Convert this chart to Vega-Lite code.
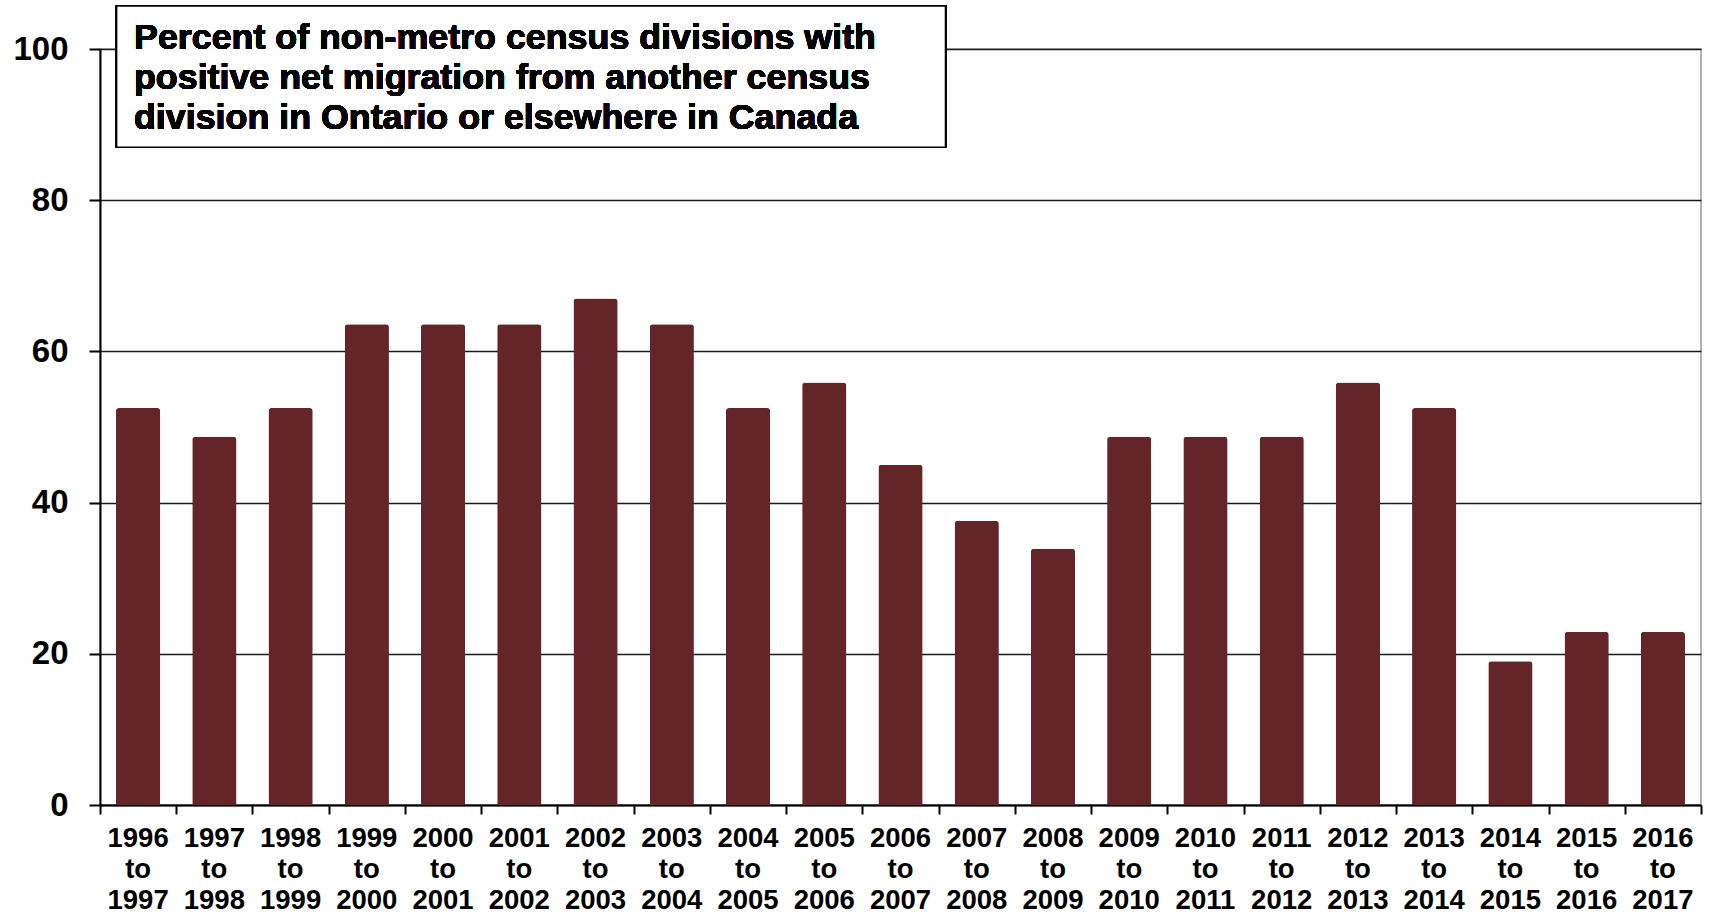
{
  "$schema": "https://vega.github.io/schema/vega-lite/v6.json",
  "width": 1601,
  "height": 756,
  "autosize": {"type": "none"},
  "padding": {"left": 100, "top": 49, "right": 8, "bottom": 109},
  "background": "white",
  "config": {"view": {"stroke": "#9a9a9a", "strokeWidth": 1.5}},
  "data": {"values": [
    {"period": "1996|to|1997", "pct": 52.5},
    {"period": "1997|to|1998", "pct": 48.7},
    {"period": "1998|to|1999", "pct": 52.5},
    {"period": "1999|to|2000", "pct": 63.6},
    {"period": "2000|to|2001", "pct": 63.6},
    {"period": "2001|to|2002", "pct": 63.6},
    {"period": "2002|to|2003", "pct": 67.0},
    {"period": "2003|to|2004", "pct": 63.6},
    {"period": "2004|to|2005", "pct": 52.5},
    {"period": "2005|to|2006", "pct": 55.9},
    {"period": "2006|to|2007", "pct": 45.0},
    {"period": "2007|to|2008", "pct": 37.6},
    {"period": "2008|to|2009", "pct": 33.9},
    {"period": "2009|to|2010", "pct": 48.7},
    {"period": "2010|to|2011", "pct": 48.7},
    {"period": "2011|to|2012", "pct": 48.7},
    {"period": "2012|to|2013", "pct": 55.9},
    {"period": "2013|to|2014", "pct": 52.5},
    {"period": "2014|to|2015", "pct": 19.0},
    {"period": "2015|to|2016", "pct": 22.9},
    {"period": "2016|to|2017", "pct": 22.9}
  ]},
  "layer": [
    {
      "mark": {"type": "bar", "color": "#632527", "cornerRadiusTopLeft": 3, "cornerRadiusTopRight": 3},
      "encoding": {
        "x": {
          "field": "period", "type": "nominal", "sort": null,
          "scale": {"paddingInner": 0.42, "paddingOuter": 0.21},
          "axis": {
            "orient": "bottom",
            "title": null, "labelAngle": 0, "ticks": false,
            "domainColor": "black", "domainWidth": 2,
            "labelExpr": "split(datum.label, '|')",
            "labelFont": "Liberation Sans", "labelFontWeight": "bold",
            "labelFontSize": 27.5, "labelLineHeight": 31, "labelColor": "black",
            "labelBaseline": "top", "labelPadding": 19
          }
        },
        "y": {
          "field": "pct", "type": "quantitative",
          "scale": {"domain": [0, 100], "nice": false},
          "axis": {
            "title": null, "values": [0, 20, 40, 60, 80, 100],
            "gridColor": "#1a1a1a", "gridWidth": 1.5,
            "domainColor": "black", "domainWidth": 2,
            "tickColor": "black", "tickSize": 11, "tickWidth": 2,
            "labelFont": "Liberation Sans", "labelFontWeight": "bold",
            "labelFontSize": 33, "labelColor": "black", "labelPadding": 21
          }
        }
      }
    },
    {
      "layer": [
        {
          "mark": {"type": "rect", "fill": "white", "stroke": "black", "strokeWidth": 1.5},
          "encoding": {
            "x": {"datum": 0.218, "type": "quantitative",
              "scale": {"domain": [0, 21], "nice": false, "zero": false},
              "axis": {
                "orient": "bottom",
                "title": null, "values": [0,1,2,3,4,5,6,7,8,9,10,11,12,13,14,15,16,17,18,19,20,21],
                "labels": false, "domain": false, "grid": false,
                "tickColor": "black", "tickSize": 9, "tickWidth": 2
              }
            },
            "x2": {"datum": 11.09},
            "y": {"datum": 105.7, "type": "quantitative"},
            "y2": {"datum": 87.0}
          }
        },
        {
          "mark": {"type": "text", "align": "left", "baseline": "middle",
            "font": "Liberation Sans", "fontWeight": "bold",
            "fontSize": 35.8, "lineHeight": 40, "color": "black"},
          "encoding": {
            "x": {"datum": 0.446, "type": "quantitative"},
            "y": {"datum": 101.4, "type": "quantitative"},
            "text": {"value": ["Percent of non-metro census divisions with", "positive net migration from another census", "division in Ontario or elsewhere in Canada"]}
          }
        }
      ]
    }
  ],
  "resolve": {"scale": {"x": "independent"}, "axis": {"x": "independent"}}
}
